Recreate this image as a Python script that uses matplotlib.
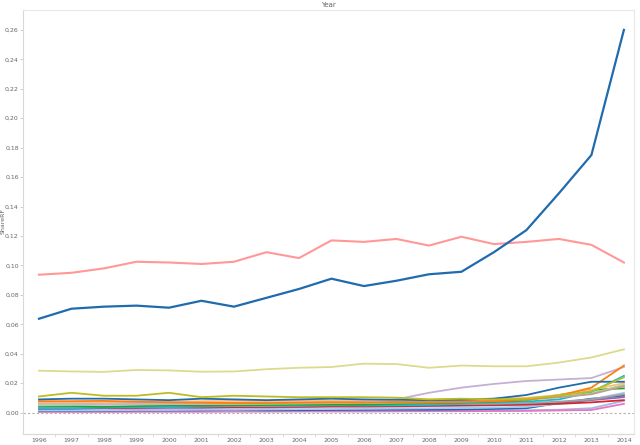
import numpy as np
import matplotlib
matplotlib.use("Agg")
import matplotlib.pyplot as plt
from matplotlib.ticker import FuncFormatter, MultipleLocator

years = list(range(1996, 2015))

# main series (ShareRF per year)
big_blue = [0.0638, 0.0706, 0.0720, 0.0727, 0.0713, 0.0760, 0.0720, 0.0780, 0.0840,
            0.0910, 0.0860, 0.0896, 0.0940, 0.0957, 0.1090, 0.1240, 0.1490, 0.1750, 0.2600]
light_red = [0.0937, 0.0950, 0.0980, 0.1025, 0.1020, 0.1010, 0.1025, 0.1090, 0.1050,
             0.1170, 0.1160, 0.1180, 0.1135, 0.1195, 0.1145, 0.1160, 0.1180, 0.1140, 0.1020]
light_olive = [0.0285, 0.0280, 0.0277, 0.0290, 0.0287, 0.0278, 0.0280, 0.0295, 0.0305,
               0.0310, 0.0333, 0.0330, 0.0305, 0.0320, 0.0315, 0.0315, 0.0340, 0.0375, 0.0430]
olive = [0.0110, 0.0135, 0.0115, 0.0115, 0.0135, 0.0105, 0.0115, 0.0110, 0.0105,
         0.0105, 0.0105, 0.0102, 0.0090, 0.0095, 0.0090, 0.0095, 0.0115, 0.0145, 0.0240]
light_purple = [0.0060, 0.0060, 0.0055, 0.0060, 0.0060, 0.0058, 0.0060, 0.0065, 0.0065,
                0.0070, 0.0070, 0.0090, 0.0135, 0.0170, 0.0195, 0.0215, 0.0225, 0.0235, 0.0310]
orange = [0.0078, 0.0078, 0.0080, 0.0075, 0.0070, 0.0068, 0.0065, 0.0065, 0.0068,
          0.0070, 0.0068, 0.0070, 0.0070, 0.0072, 0.0078, 0.0088, 0.0115, 0.0170, 0.0320]
blue = [0.0090, 0.0095, 0.0095, 0.0090, 0.0085, 0.0095, 0.0090, 0.0085, 0.0090,
        0.0095, 0.0090, 0.0088, 0.0085, 0.0088, 0.0095, 0.0120, 0.0170, 0.0210, 0.0210]
cyan = [0.0030, 0.0030, 0.0035, 0.0040, 0.0040, 0.0045, 0.0050, 0.0050, 0.0050,
        0.0055, 0.0050, 0.0050, 0.0055, 0.0060, 0.0070, 0.0075, 0.0090, 0.0140, 0.0250]
green = [0.0045, 0.0045, 0.0040, 0.0045, 0.0050, 0.0048, 0.0050, 0.0052, 0.0055,
         0.0055, 0.0055, 0.0060, 0.0065, 0.0070, 0.0075, 0.0085, 0.0120, 0.0155, 0.0165]
light_green = [0.0050, 0.0052, 0.0055, 0.0055, 0.0058, 0.0060, 0.0060, 0.0060, 0.0062,
               0.0065, 0.0065, 0.0068, 0.0070, 0.0075, 0.0080, 0.0090, 0.0105, 0.0130, 0.0190]
red = [0.0030, 0.0032, 0.0035, 0.0035, 0.0040, 0.0040, 0.0038, 0.0040, 0.0042,
       0.0045, 0.0045, 0.0045, 0.0048, 0.0050, 0.0052, 0.0055, 0.0060, 0.0070, 0.0085]
light_orange = [0.0070, 0.0070, 0.0072, 0.0075, 0.0075, 0.0078, 0.0080, 0.0078, 0.0080,
                0.0082, 0.0085, 0.0088, 0.0090, 0.0092, 0.0095, 0.0100, 0.0120, 0.0155, 0.0200]
light_brown = [0.0065, 0.0065, 0.0068, 0.0070, 0.0070, 0.0068, 0.0065, 0.0068, 0.0070,
               0.0072, 0.0075, 0.0075, 0.0078, 0.0080, 0.0085, 0.0090, 0.0105, 0.0125, 0.0180]
purple = [0.0025, 0.0025, 0.0030, 0.0030, 0.0032, 0.0032, 0.0035, 0.0035, 0.0038,
          0.0040, 0.0040, 0.0042, 0.0045, 0.0048, 0.0050, 0.0055, 0.0065, 0.0085, 0.0105]
gray = [0.0035, 0.0036, 0.0038, 0.0040, 0.0040, 0.0042, 0.0045, 0.0045, 0.0047,
        0.0050, 0.0050, 0.0052, 0.0055, 0.0058, 0.0060, 0.0065, 0.0075, 0.0090, 0.0125]
light_blue = [0.0015, 0.0015, 0.0016, 0.0018, 0.0018, 0.0020, 0.0020, 0.0022, 0.0024,
              0.0025, 0.0026, 0.0028, 0.0030, 0.0032, 0.0035, 0.0040, 0.0060, 0.0090, 0.0135]
dark_blue_low = [0.0012, 0.0012, 0.0013, 0.0015, 0.0015, 0.0016, 0.0018, 0.0016, 0.0017,
                 0.0018, 0.0019, 0.0020, 0.0020, 0.0022, 0.0025, 0.0030, 0.0065, 0.0095, 0.0115]
pink = [0.0005, 0.0005, 0.0005, 0.0006, 0.0006, 0.0006, 0.0007, 0.0007, 0.0008,
        0.0008, 0.0008, 0.0009, 0.0010, 0.0010, 0.0011, 0.0012, 0.0015, 0.0018, 0.0060]
lavender = [0.0008, 0.0008, 0.0009, 0.0009, 0.0010, 0.0010, 0.0010, 0.0011, 0.0011,
            0.0012, 0.0012, 0.0013, 0.0013, 0.0014, 0.0015, 0.0016, 0.0020, 0.0030, 0.0080]

low_series = [
    (lavender, "#a9b4e6"), (pink, "#e377c2"), (dark_blue_low, "#1f6bae"),
    (light_blue, "#aec7e8"), (purple, "#9467bd"), (red, "#d62728"),
    (gray, "#a0a0a0"), (cyan, "#17becf"), (green, "#2ca02c"),
    (light_green, "#98df8a"), (light_brown, "#c49c94"), (light_purple, "#c5b0d5"),
    (light_orange, "#ffbb78"), (orange, "#ff7f0e"), (blue, "#1f6bae"),
    (olive, "#bcbd22"), (light_olive, "#dbdb8d"),
]

fig = plt.figure(figsize=(6.4, 4.45), dpi=100)
ax = fig.add_axes([0.036, 0.0247, 0.9546, 0.9528])

ax.axhline(0, color="#b0b0b0", lw=0.8, ls=(0, (2, 2)), zorder=1)

for vals, col in low_series:
    ax.plot(years, vals, color=col, lw=1.3, zorder=2)
ax.plot(years, light_red, color="#ff9896", lw=1.5, zorder=3)
ax.plot(years, big_blue, color="#1f6bae", lw=1.6, zorder=3)

ax.set_xlim(1995.51, 2014.31)
ax.set_ylim(-0.0145, 0.2735)
ax.set_xticks(years)
ax.set_xticks([y + 0.5 for y in years[:-1]], minor=True)
ax.yaxis.set_major_locator(MultipleLocator(0.02))
ax.yaxis.set_major_formatter(FuncFormatter(lambda v, p: f"{v:.2f}".replace(".", ",")))

ax.tick_params(axis="both", labelsize=4.5, colors="#666666", length=2, width=0.5, pad=1)
ax.tick_params(axis="x", which="major", length=0, pad=3)
ax.tick_params(axis="x", which="minor", length=2.5, width=0.5, color="#d0d0d0")
ax.tick_params(axis="y", color="#bbbbbb")

for s in ["top", "right"]:
    ax.spines[s].set_color("#e8e8e8")
    ax.spines[s].set_linewidth(0.8)
for s in ["left", "bottom"]:
    ax.spines[s].set_color("#d8d8d8")
    ax.spines[s].set_linewidth(0.8)

fig.text(3.5 / 640, 1 - 221 / 445, "ShareRF", fontsize=4.5, color="#666666",
         rotation=90, ha="center", va="center")
fig.text(0.5 * (0.036 + 0.9906), 0.988, "Year", fontsize=5, color="#666666",
         ha="center", va="center")

fig.savefig("out.png", dpi=100)
